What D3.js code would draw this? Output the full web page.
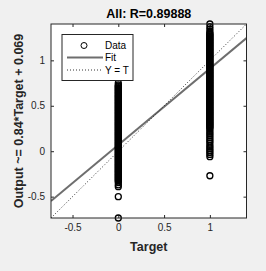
<!DOCTYPE html>
<html>
<head>
<meta charset="utf-8">
<script src="https://cdn.jsdelivr.net/npm/d3@7"></script>
<style>
  body { margin: 0; background: #f0f0f0; }
  svg { display: block; font-family: Arial, "Liberation Sans", sans-serif; }
</style>
</head>
<body>
<div id="chart"></div>
<script>
// outputs, grouped by target value
const outputsAtTarget0 = [0.75, 0.73, 0.72, 0.71, 0.70, 0.69, 0.68, 0.67, 0.66, 0.65, 0.64, 0.63, 0.62, 0.61,
  0.60, 0.59, 0.58, 0.57, 0.56, 0.55, 0.54, 0.53, 0.52, 0.51, 0.50, 0.49, 0.48, 0.47, 0.46, 0.45,
  0.44, 0.43, 0.42, 0.41, 0.40, 0.39, 0.38, 0.37, 0.36, 0.35, 0.34, 0.33, 0.32, 0.31, 0.30, 0.29,
  0.28, 0.27, 0.26, 0.25, 0.24, 0.23, 0.22, 0.21, 0.20, 0.19, 0.18, 0.17, 0.16, 0.15, 0.14, 0.13,
  0.12, 0.11, 0.10, 0.09, 0.08, 0.07, 0.06, 0.05, 0.04, 0.03, 0.02, 0.01, 0.00, -0.01, -0.02, -0.03,
  -0.04, -0.05, -0.06, -0.07, -0.08, -0.09, -0.10, -0.11, -0.12, -0.13, -0.14, -0.15, -0.16, -0.17,
  -0.18, -0.19, -0.20, -0.21, -0.22, -0.23, -0.24, -0.25, -0.26, -0.27, -0.28, -0.29, -0.30, -0.31,
  -0.32, -0.33, -0.345, -0.37, -0.39, -0.50, -0.735]
const outputsAtTarget1 = [1.40, 1.37, 1.345, 1.32, 1.30, 1.29, 1.28, 1.27, 1.26, 1.25, 1.24, 1.23, 1.22, 1.21,
  1.20, 1.19, 1.18, 1.17, 1.16, 1.15, 1.14, 1.13, 1.12, 1.11, 1.10, 1.09, 1.08, 1.07, 1.06, 1.05,
  1.04, 1.03, 1.02, 1.01, 1.00, 0.99, 0.98, 0.97, 0.96, 0.95, 0.94, 0.93, 0.92, 0.91, 0.90, 0.89,
  0.88, 0.87, 0.86, 0.85, 0.84, 0.83, 0.82, 0.81, 0.80, 0.79, 0.78, 0.77, 0.76, 0.75, 0.74, 0.73,
  0.72, 0.71, 0.70, 0.69, 0.68, 0.67, 0.66, 0.65, 0.64, 0.63, 0.62, 0.61, 0.60, 0.59, 0.58, 0.57,
  0.56, 0.55, 0.54, 0.53, 0.52, 0.51, 0.50, 0.49, 0.48, 0.47, 0.46, 0.45, 0.44, 0.43, 0.42, 0.41,
  0.40, 0.39, 0.38, 0.37, 0.36, 0.35, 0.34, 0.33, 0.32, 0.31, 0.30, 0.29, 0.28, 0.27, 0.26, 0.25,
  0.23, 0.21, 0.19, 0.17, 0.15, 0.13, 0.11, 0.09, 0.065, 0.045, 0.025, 0.005, -0.015, -0.035, -0.06,
  -0.27]

const fitSlope = 0.84
const fitIntercept = 0.069
const axisLimits = [-0.735, 1.40]
const xTicks = [-0.5, 0, 0.5, 1]
const yTicks = [-0.5, 0, 0.5, 1]
const titleText = 'All: R=0.89888'
const xLabel = 'Target'
const yLabel = 'Output ~= 0.84*Target + 0.069'
const legendLabels = ['Data', 'Fit', 'Y = T']

const data = outputsAtTarget0.map(v => ({t: 0, y: v}))
  .concat(outputsAtTarget1.map(v => ({t: 1, y: v})))

const W = 266, H = 271
const margin = {top: 24, right: 19.5, bottom: 53, left: 51}
const width = W - margin.left - margin.right
const height = H - margin.top - margin.bottom

const axisColor = '#262626'

const x = d3.scaleLinear().domain(axisLimits).range([0, width])
const y = d3.scaleLinear().domain(axisLimits).range([height, 0])

const svg = d3.select('#chart').append('svg')
  .attr('width', W)
  .attr('height', H)

svg.append('rect').attr('width', W).attr('height', H).attr('fill', '#f0f0f0')

const g = svg.append('g')
  .attr('transform', `translate(${margin.left},${margin.top})`)

g.append('rect')
  .attr('width', width)
  .attr('height', height)
  .attr('fill', '#fff')

g.append('clipPath').attr('id', 'clip')
  .append('rect').attr('width', width).attr('height', height)

const fmt = d => String(d)

const styleAxis = sel => {
  sel.select('.domain').remove()
  sel.selectAll('line').attr('stroke', axisColor)
  sel.selectAll('text').attr('fill', axisColor).style('font-size', '10px')
}

g.append('g')
  .attr('transform', `translate(0,${height})`)
  .call(d3.axisBottom(x).tickValues(xTicks).tickFormat(fmt).tickSizeInner(-3).tickSizeOuter(0).tickPadding(6))
  .call(styleAxis)

g.append('g')
  .call(d3.axisTop(x).tickValues(xTicks).tickFormat('').tickSizeInner(-3).tickSizeOuter(0))
  .call(styleAxis)

g.append('g')
  .call(d3.axisLeft(y).tickValues(yTicks).tickFormat(fmt).tickSizeInner(-3).tickSizeOuter(0).tickPadding(6))
  .call(styleAxis)

g.append('g')
  .attr('transform', `translate(${width},0)`)
  .call(d3.axisRight(y).tickValues(yTicks).tickFormat('').tickSizeInner(-3).tickSizeOuter(0))
  .call(styleAxis)

const plot = g.append('g').attr('clip-path', 'url(#clip)')

// fit line
plot.append('line')
  .attr('x1', x(axisLimits[0]))
  .attr('y1', y(fitSlope * axisLimits[0] + fitIntercept))
  .attr('x2', x(axisLimits[1]))
  .attr('y2', y(fitSlope * axisLimits[1] + fitIntercept))
  .attr('stroke', '#6e6e6e')
  .attr('stroke-width', 2)

// Y = T
plot.append('line')
  .attr('x1', x(axisLimits[0]))
  .attr('y1', y(axisLimits[0]))
  .attr('x2', x(axisLimits[1]))
  .attr('y2', y(axisLimits[1]))
  .attr('stroke', '#000')
  .attr('stroke-width', 0.8)
  .attr('stroke-dasharray', '1,2')

g.selectAll('.dot')
  .data(data)
  .enter().append('circle')
  .attr('class', 'dot')
  .attr('cx', d => x(d.t))
  .attr('cy', d => y(d.y))
  .attr('r', 3)
  .attr('fill', 'none')
  .attr('stroke', '#000')
  .attr('stroke-width', 1.3)

// box
g.append('rect')
  .attr('width', width)
  .attr('height', height)
  .attr('fill', 'none')
  .attr('stroke', axisColor)
  .attr('stroke-width', 1)

// legend
const legend = g.append('g').attr('transform', 'translate(11,10.5)')
legend.append('rect')
  .attr('width', 71)
  .attr('height', 46)
  .attr('fill', '#fff')
  .attr('stroke', axisColor)

legend.append('circle')
  .attr('cx', 22).attr('cy', 11).attr('r', 3)
  .attr('fill', 'none').attr('stroke', '#000')
legend.append('line')
  .attr('x1', 5).attr('x2', 41).attr('y1', 23).attr('y2', 23)
  .attr('stroke', '#6e6e6e').attr('stroke-width', 2)
legend.append('line')
  .attr('x1', 5).attr('x2', 41).attr('y1', 35.5).attr('y2', 35.5)
  .attr('stroke', '#000').attr('stroke-width', 0.8).attr('stroke-dasharray', '1,2')

legend.selectAll('.ltext')
  .data(legendLabels)
  .enter().append('text')
  .attr('class', 'ltext')
  .attr('x', 43)
  .attr('y', (d, i) => 11 + i * 12.3)
  .attr('dy', '0.35em')
  .attr('fill', '#000')
  .style('font-size', '10px')
  .text(d => d)

// title & labels
svg.append('text')
  .attr('x', margin.left + width / 2)
  .attr('y', 18)
  .attr('text-anchor', 'middle')
  .attr('fill', '#000')
  .style('font-size', '12.5px')
  .style('font-weight', 'bold')
  .text(titleText)

svg.append('text')
  .attr('x', margin.left + width / 2)
  .attr('y', 251)
  .attr('text-anchor', 'middle')
  .attr('fill', axisColor)
  .style('font-size', '12.5px')
  .style('font-weight', 'bold')
  .text(xLabel)

svg.append('text')
  .attr('transform', `translate(22.5,${margin.top + height / 2}) rotate(-90)`)
  .attr('text-anchor', 'middle')
  .attr('fill', axisColor)
  .style('font-size', '12.5px')
  .style('font-weight', 'bold')
  .text(yLabel)
</script>
</body>
</html>
